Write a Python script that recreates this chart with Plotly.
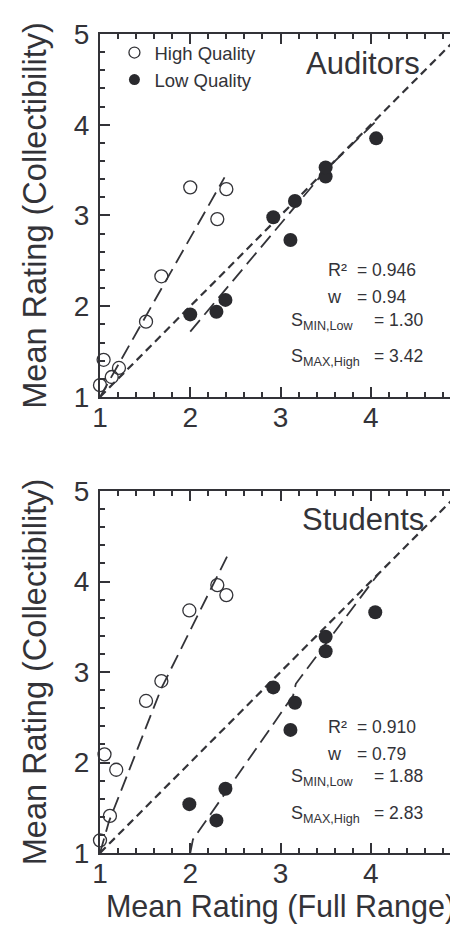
import plotly.graph_objects as go

# ---------------- data ----------------
aud_high_x = [1.00, 1.04, 1.13, 1.21, 1.51, 1.68, 2.00, 2.30, 2.40]
aud_high_y = [1.13, 1.41, 1.22, 1.32, 1.83, 2.33, 3.31, 2.96, 3.29]
aud_low_x = [2.00, 2.29, 2.39, 2.92, 3.11, 3.16, 3.50, 3.50, 4.06]
aud_low_y = [1.91, 1.94, 2.07, 2.98, 2.73, 3.16, 3.43, 3.53, 3.85]

stu_high_x = [1.00, 1.05, 1.11, 1.18, 1.51, 1.68, 1.99, 2.30, 2.40]
stu_high_y = [1.14, 2.09, 1.41, 1.92, 2.68, 2.90, 3.68, 3.96, 3.85]
stu_low_x = [1.99, 2.29, 2.39, 2.92, 3.11, 3.16, 3.50, 3.50, 4.05]
stu_low_y = [1.54, 1.36, 1.71, 2.83, 2.36, 2.66, 3.23, 3.39, 3.66]

identity_x = [1.0, 4.92]
identity_y = [1.0, 4.92]

aud_fit_high_x = [1.0, 2.38]
aud_fit_high_y = [1.0, 3.42]
aud_fit_low_x = [2.0, 3.5, 4.07]
aud_fit_low_y = [1.72, 3.5, 4.05]

stu_fit_high_x = [1.0, 1.1, 1.68, 2.42]
stu_fit_high_y = [1.0, 1.35, 2.82, 4.30]
stu_fit_low_x = [2.0, 2.03, 3.14, 3.17, 3.23, 4.08]
stu_fit_low_y = [1.0, 1.15, 2.74, 2.87, 2.95, 4.08]

tick_vals = [1, 2, 3, 4, 5]
tick_text = ["1", "2", "3", "4", "5"]

panels = [
    dict(name="Auditors", hx=aud_high_x, hy=aud_high_y, lx=aud_low_x, ly=aud_low_y,
         fhx=aud_fit_high_x, fhy=aud_fit_high_y, flx=aud_fit_low_x, fly=aud_fit_low_y,
         r2="0.946", w="0.94", smin="1.30", smax="3.42"),
    dict(name="Students", hx=stu_high_x, hy=stu_high_y, lx=stu_low_x, ly=stu_low_y,
         fhx=stu_fit_high_x, fhy=stu_fit_high_y, flx=stu_fit_low_x, fly=stu_fit_low_y,
         r2="0.910", w="0.79", smin="1.88", smax="2.83"),
]

INK = "#333338"
FONT = "Liberation Sans, Arial, Helvetica, sans-serif"

fig = go.Figure()

for i, p in enumerate(panels):
    xa = "x" if i == 0 else "x2"
    ya = "y" if i == 0 else "y2"
    # identity line (short dashes)
    fig.add_trace(go.Scatter(x=identity_x, y=identity_y, xaxis=xa, yaxis=ya, mode="lines",
                             line=dict(color=INK, width=2.2, dash="8px,5px"), showlegend=False,
                             hoverinfo="skip"))
    fig.add_trace(go.Scatter(x=p["fhx"], y=p["fhy"], xaxis=xa, yaxis=ya, mode="lines",
                             line=dict(color=INK, width=1.8, dash="15px,7px"), showlegend=False,
                             hoverinfo="skip"))
    fig.add_trace(go.Scatter(x=p["flx"], y=p["fly"], xaxis=xa, yaxis=ya, mode="lines",
                             line=dict(color=INK, width=1.8, dash="15px,7px"), showlegend=False,
                             hoverinfo="skip"))
    fig.add_trace(go.Scatter(x=p["hx"], y=p["hy"], xaxis=xa, yaxis=ya, mode="markers",
                             marker=dict(size=13, color="rgba(255,255,255,0)",
                                         line=dict(color=INK, width=1.3)),
                             showlegend=False, cliponaxis=False))
    fig.add_trace(go.Scatter(x=p["lx"], y=p["ly"], xaxis=xa, yaxis=ya, mode="markers",
                             marker=dict(size=14, color="#2a2a2e", line=dict(width=0)),
                             showlegend=False, cliponaxis=False))

    # panel label
    fig.add_annotation(x=3.91, y=4.68, xref=xa, yref=ya, text=p["name"], showarrow=False,
                       xanchor="center", yanchor="middle",
                       font=dict(size=31, color=INK, family=FONT))
    # statistics block
    rows = [
        ("R\u00b2", 3.50, "= " + p["r2"], 3.82, 2.40),
        ("w", 3.49, "= " + p["w"], 3.82, 2.10),
        ("S<sub>MIN,Low</sub>", 3.09, "= " + p["smin"], 4.01, 1.85),
        ("S<sub>MAX,High</sub>", 3.09, "= " + p["smax"], 4.01, 1.45),
    ]
    for lab, lx, val, vx, yy in rows:
        fig.add_annotation(x=lx, y=yy + 0.13, xref=xa, yref=ya, text=lab, showarrow=False,
                           xanchor="left", yanchor="top",
                           font=dict(size=18, color=INK, family=FONT))
        fig.add_annotation(x=vx, y=yy + 0.13, xref=xa, yref=ya, text=val, showarrow=False,
                           xanchor="left", yanchor="top",
                           font=dict(size=17.5, color=INK, family=FONT))

# legend-only traces
fig.add_trace(go.Scatter(x=[None], y=[None], mode="markers", name="High Quality",
                         marker=dict(size=11, color="white", line=dict(color=INK, width=1.3))))
fig.add_trace(go.Scatter(x=[None], y=[None], mode="markers", name="Low Quality",
                         marker=dict(size=11, color="#2a2a2e")))

axis_common = dict(range=[1, 5], tickvals=tick_vals, ticktext=tick_text, automargin=False,
                   showgrid=False, zeroline=False, showline=True, mirror="ticks",
                   linecolor=INK, linewidth=2, ticks="inside", ticklen=10, tickwidth=2,
                   tickcolor=INK, tickfont=dict(size=28, color=INK, family=FONT),
                   ticklabeloverflow="allow",
                   minor=dict(dtick=0.2, ticks="inside", ticklen=5, tickwidth=1.6,
                              tickcolor=INK, showgrid=False))

title_font = dict(size=32.5, color=INK, family=FONT)
xtitle_font = dict(size=30.5, color=INK, family=FONT)

fig.update_layout(
    template="none",
    width=458, height=927,
    margin=dict(l=92, r=5, t=26, b=82),
    paper_bgcolor="white", plot_bgcolor="white",
    font=dict(family=FONT, color=INK),
    xaxis=dict(domain=[0, 1], anchor="y", ticklabelstandoff=-6, **axis_common),
    yaxis=dict(domain=[0.5568, 1], anchor="x", ticklabelstandoff=3,
               title=dict(text="Mean Rating (Collectibility)", font=title_font, standoff=17),
               **axis_common),
    xaxis2=dict(domain=[0, 1], anchor="y2", ticklabelstandoff=-6,
                title=dict(text="Mean Rating (Full Range)", font=xtitle_font, standoff=7),
                **axis_common),
    yaxis2=dict(domain=[0, 0.442], anchor="x2", ticklabelstandoff=3,
                title=dict(text="Mean Rating (Collectibility)", font=title_font, standoff=17),
                **axis_common),
    legend=dict(x=0.04, y=1.0, xanchor="left", yanchor="top",
                bgcolor="rgba(0,0,0,0)", font=dict(size=18.5, color=INK, family=FONT),
                itemwidth=30, tracegroupgap=0),
    showlegend=True,
)

fig.write_html("out.html")
